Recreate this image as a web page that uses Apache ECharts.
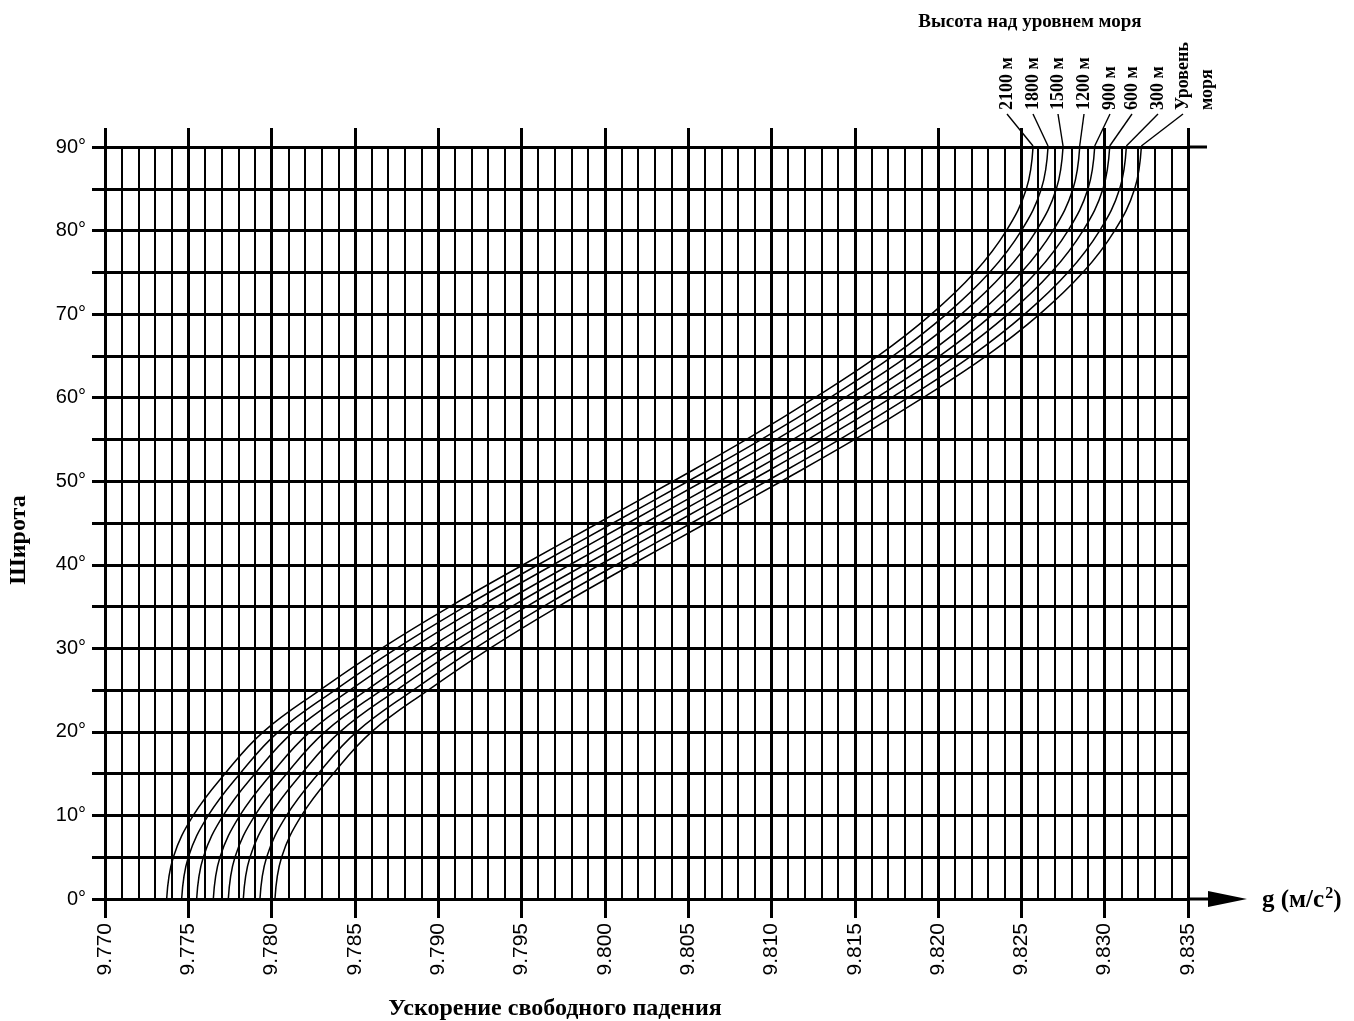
<!DOCTYPE html>
<html>
<head>
<meta charset="utf-8">
<script src="https://cdn.jsdelivr.net/npm/echarts/dist/echarts.min.js"></script>
<style>
html,body{margin:0;padding:0;background:#fff;}
#main{width:1354px;height:1021px;}
</style>
</head>
<body>
<div id="main"></div>
<script>
// широта, градусы
var latitudes = [0, 5, 10, 15, 20, 25, 30, 35, 40, 45, 50, 55, 60, 65, 70, 75, 80, 85, 90];

// g (м/с2) для каждой высоты
var gSea  = [9.7802, 9.7806, 9.7818, 9.7837, 9.7860, 9.7894, 9.7931, 9.7972, 9.8016, 9.8061, 9.8106, 9.8150, 9.8191, 9.8229, 9.8261, 9.8287, 9.8306, 9.8318, 9.8322];
var g300  = [9.7793, 9.7797, 9.7809, 9.7828, 9.7851, 9.7885, 9.7922, 9.7963, 9.8007, 9.8052, 9.8097, 9.8141, 9.8182, 9.8220, 9.8252, 9.8278, 9.8297, 9.8309, 9.8313];
var g600  = [9.7783, 9.7787, 9.7799, 9.7818, 9.7841, 9.7875, 9.7912, 9.7953, 9.7997, 9.8042, 9.8087, 9.8131, 9.8172, 9.8210, 9.8242, 9.8268, 9.8287, 9.8299, 9.8303];
var g900  = [9.7774, 9.7778, 9.7790, 9.7809, 9.7832, 9.7866, 9.7903, 9.7944, 9.7988, 9.8033, 9.8078, 9.8122, 9.8163, 9.8201, 9.8233, 9.8259, 9.8278, 9.8290, 9.8294];
var g1200 = [9.7765, 9.7769, 9.7781, 9.7800, 9.7823, 9.7857, 9.7894, 9.7935, 9.7979, 9.8024, 9.8069, 9.8113, 9.8154, 9.8192, 9.8224, 9.8250, 9.8269, 9.8281, 9.8285];
var g1500 = [9.7755, 9.7759, 9.7771, 9.7790, 9.7813, 9.7847, 9.7884, 9.7925, 9.7969, 9.8014, 9.8059, 9.8103, 9.8144, 9.8182, 9.8214, 9.8240, 9.8259, 9.8271, 9.8275];
var g1800 = [9.7746, 9.7750, 9.7762, 9.7781, 9.7804, 9.7838, 9.7875, 9.7916, 9.7960, 9.8005, 9.8050, 9.8094, 9.8135, 9.8173, 9.8205, 9.8231, 9.8250, 9.8262, 9.8266];
var g2100 = [9.7737, 9.7741, 9.7753, 9.7772, 9.7795, 9.7829, 9.7866, 9.7907, 9.7951, 9.7996, 9.8041, 9.8085, 9.8126, 9.8164, 9.8196, 9.8222, 9.8241, 9.8253, 9.8257];

var curves = [g2100, g1800, g1500, g1200, g900, g600, g300, gSea];
var curveNames = ['2100 м', '1800 м', '1500 м', '1200 м', '900 м', '600 м', '300 м', 'Уровень\nморя'];

var xMin = 9.770, xMax = 9.835, xStep = 0.005;
var yMin = 0, yMax = 90, yStep = 10;

var SANS = '"Liberation Sans", Arial, sans-serif';
var SERIF = '"Liberation Serif", "DejaVu Serif", serif';

var chart = echarts.init(document.getElementById('main'));

var seriesList = [];
for (var i = 0; i < curves.length; i++) {
	var pts = [];
	for (var j = 0; j < latitudes.length; j++) {
		pts.push([curves[i][j], latitudes[j]]);
	}
	seriesList.push({
		type: 'line',
		name: curveNames[i],
		data: pts,
		smooth: 0.4,
		showSymbol: false,
		silent: true,
		xAxisIndex: 0,
		yAxisIndex: 0,
		lineStyle: {color: '#000', width: 1.5}
	});
}

var option = {
	backgroundColor: '#fff',
	animation: false,
	grid: [
		{left: 105, right: 166, top: 147, bottom: 122, containLabel: false, outerBoundsMode: 'none'},
		// полоска над сеткой: жирные вертикали чуть выше 90°
		{left: 105, right: 166, top: 128, height: 19, containLabel: false, outerBoundsMode: 'none'}
	],
	xAxis: [{
		type: 'value', gridIndex: 0,
		min: xMin, max: xMax, interval: xStep,
		axisLine: {show: true, lineStyle: {color: '#000', width: 3}},
		axisTick: {show: true, length: 19, lineStyle: {color: '#000', width: 3}},
		minorTick: {show: false},
		axisLabel: {
			rotate: 90, margin: 24, color: '#000', fontFamily: SANS, fontSize: 21,
			formatter: function (v) { return v.toFixed(3); }
		},
		splitLine: {show: true, lineStyle: {color: '#000', width: 3}},
		minorSplitLine: {show: true, lineStyle: {color: '#000', width: 2}},
		splitNumber: 5
	}, {
		type: 'value', gridIndex: 1,
		min: xMin, max: xMax, interval: xStep,
		axisLine: {show: false}, axisTick: {show: false}, axisLabel: {show: false},
		splitLine: {show: true, lineStyle: {color: '#000', width: 3}}
	}],
	yAxis: [{
		type: 'value', gridIndex: 0,
		min: yMin, max: yMax, interval: yStep,
		axisLine: {show: false},
		axisTick: {show: true, length: 13, lineStyle: {color: '#000', width: 3}},
		minorTick: {show: true, splitNumber: 2, length: 13, lineStyle: {color: '#000', width: 3}},
		axisLabel: {
			margin: 19, color: '#000', fontFamily: SANS, fontSize: 20,
			formatter: function (v) { return v + '°'; }
		},
		splitLine: {show: true, lineStyle: {color: '#000', width: 3}},
		minorSplitLine: {show: true, lineStyle: {color: '#000', width: 3}}
	}, {
		type: 'value', gridIndex: 1, min: 0, max: 1, show: false
	}],
	series: seriesList
};
chart.setOption(option);

// подписи, стрелка и выноски - по пикселям осей
function drawExtras() {
	var g = [];
	var p0 = chart.convertToPixel({gridIndex: 0}, [xMax, yMin]);
	var p90 = chart.convertToPixel({gridIndex: 0}, [xMax, yMax]);

	// ось g со стрелкой
	g.push({type: 'line', silent: true, shape: {x1: p0[0], y1: p0[1], x2: p0[0] + 24, y2: p0[1]},
		style: {stroke: '#000', lineWidth: 3}});
	g.push({type: 'polygon', silent: true,
		shape: {points: [[p0[0] + 20, p0[1] - 8], [p0[0] + 59, p0[1]], [p0[0] + 20, p0[1] + 8]]},
		style: {fill: '#000'}});
	// верхняя линия 90° чуть длиннее
	g.push({type: 'line', silent: true, shape: {x1: p90[0], y1: p90[1], x2: p90[0] + 19, y2: p90[1]},
		style: {stroke: '#000', lineWidth: 3}});

	g.push({type: 'text', silent: true, x: p0[0] + 74, y: p0[1] + 2,
		style: {
			text: 'g (м/с{sup|2})', font: 'bold 25px ' + SERIF, fill: '#000', align: 'left', verticalAlign: 'middle',
			lineHeight: 30,
			rich: {sup: {font: 'bold 16px ' + SERIF, fill: '#000', verticalAlign: 'top', lineHeight: 30, padding: [0, 0, 10, 1]}}
		}});

	g.push({type: 'text', silent: true, x: 555, y: 1009,
		style: {text: 'Ускорение свободного падения', font: 'bold 24px ' + SERIF, fill: '#000', align: 'center', verticalAlign: 'middle'}});

	g.push({type: 'text', silent: true, x: 19, y: 540, rotation: Math.PI / 2,
		style: {text: 'Широта', font: 'bold 24px ' + SERIF, fill: '#000', align: 'center', verticalAlign: 'middle'}});

	g.push({type: 'text', silent: true, x: 1030, y: 22,
		style: {text: 'Высота над уровнем моря', font: 'bold 19px ' + SERIF, fill: '#000', align: 'center', verticalAlign: 'middle'}});

	var labelX = [1007, 1033, 1058, 1084, 1110, 1132, 1158, 1183];
	for (var i = 0; i < curves.length; i++) {
		var tip = chart.convertToPixel({gridIndex: 0}, [curves[i][curves[i].length - 1], yMax]);
		g.push({type: 'line', silent: true,
			shape: {x1: labelX[i], y1: 114, x2: tip[0], y2: tip[1] - 1},
			style: {stroke: '#000', lineWidth: 1.4}});
		var two = curveNames[i].indexOf('\n') >= 0;
		g.push({type: 'text', silent: true,
			x: two ? labelX[i] - 12 : labelX[i], y: 110, rotation: Math.PI / 2,
			style: {text: curveNames[i], font: 'bold 18px ' + SERIF, lineHeight: 24, fill: '#000',
				align: 'left', verticalAlign: two ? 'top' : 'middle'}});
	}
	chart.setOption({graphic: g});
}
drawExtras();
</script>
</body>
</html>
